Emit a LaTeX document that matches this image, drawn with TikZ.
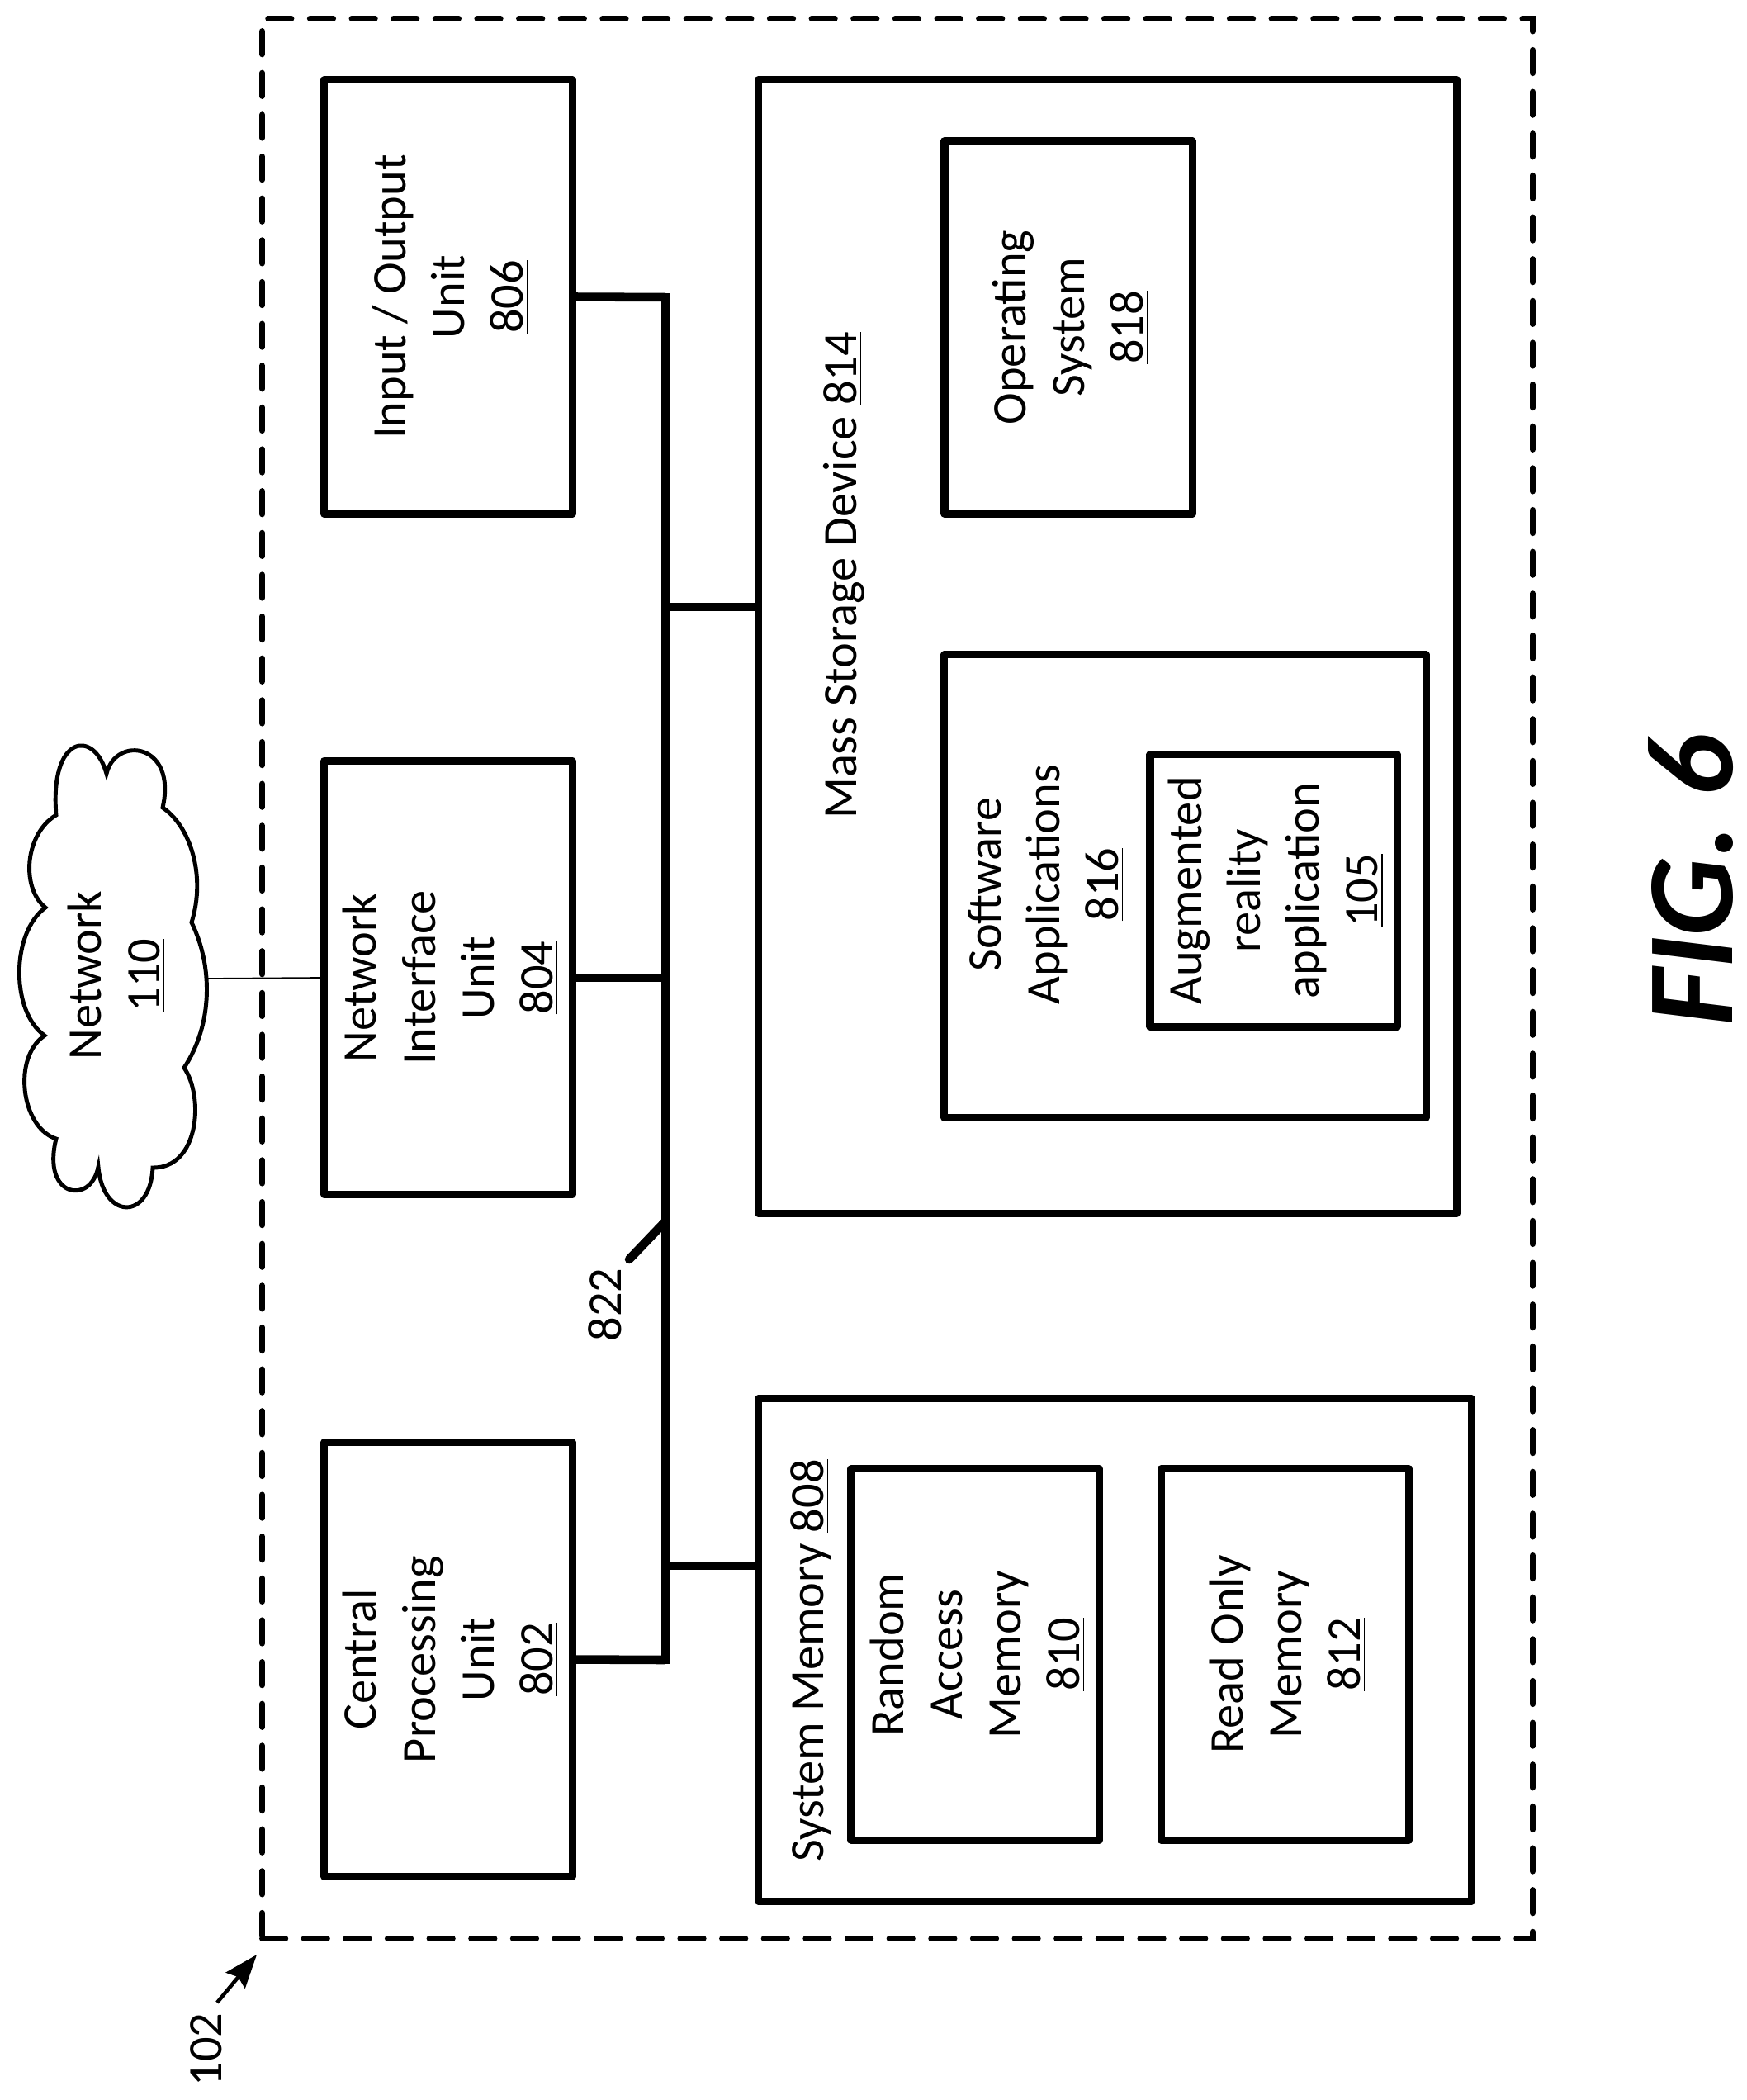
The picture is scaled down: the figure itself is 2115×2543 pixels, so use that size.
\documentclass[tikz,border=0pt]{standalone}
\usepackage{fontspec}
\setmainfont{Carlito}
\usetikzlibrary{arrows.meta}
\tikzset{
    box/.style={draw, line width=2.6pt, line join=round, outer sep=0pt, inner sep=0pt},
    txt/.style={xshift=0.03cm, rotate=90, align=center, inner sep=0pt, font=\fontsize{16.6}{20.2}\selectfont},
    bus/.style={line width=3pt},
}
\begin{document}
\begin{tikzpicture}[x=0.01cm, y=-0.01cm]
    \useasboundingbox (0,0) rectangle (2115,2543);

    \node[draw, line width=2pt, dash pattern=on 8pt off 6.4pt, line cap=round, outer sep=0pt, minimum width=15.38cm, minimum height=23.24cm] (device) at (1087,1185) {};

    % left column
    \node[box, minimum width=3.00cm, minimum height=5.25cm] (io) at (543,359.5) {};
    \node[box, minimum width=3.00cm, minimum height=5.25cm] (nic) at (543,1184) {};
    \node[box, minimum width=3.00cm, minimum height=5.25cm] (cpu) at (543,2009.5) {};
    \node[txt] (iotxt) at (io) {Input / Output\\Unit\\\underline{806}};
    \node[txt] (nictxt) at (nic) {Network\\Interface\\Unit\\\underline{804}};
    \node[txt] (cputxt) at (cpu) {Central\\Processing\\Unit\\\underline{802}};

    % mass storage
    \node[box, minimum width=8.45cm, minimum height=13.72cm] (mass) at (1341.5,783) {};
    \node[box, minimum width=3.00cm, minimum height=4.51cm] (os) at (1294,396.5) {};
    \node[box, minimum width=5.83cm, minimum height=5.60cm] (apps) at (1435.5,1073) {};
    \node[box, minimum width=2.99cm, minimum height=3.29cm] (ar) at (1542.5,1078.5) {};
    \node[txt] (masstxt) at (1019,697) {Mass Storage Device \underline{814}};
    \node[txt] (ostxt) at (os) {Operating\\System\\\underline{818}};
    \node[txt] (appstxt) at (1264,1071) {Software\\Applications\\\underline{816}};
    \node[txt] (artxt) at (ar) {Augmented\\reality\\application\\\underline{105}};

    % system memory
    \node[box, minimum width=8.63cm, minimum height=6.08cm] (mem) at (1350.5,1998) {};
    \node[box, minimum width=3.00cm, minimum height=4.49cm] (ram) at (1181,2003.5) {};
    \node[box, minimum width=3.00cm, minimum height=4.49cm] (rom) at (1556.5,2003.5) {};
    \node[txt] (memtxt) at (979,2011) {System Memory \underline{808}};
    \node[txt] (ramtxt) at (ram) {Random\\Access\\Memory\\\underline{810}};
    \node[txt] (romtxt) at (rom) {Read Only\\Memory\\\underline{812}};

    % bus
    \coordinate (bustop) at (806,360);
    \coordinate (busbot) at (806,2010);
    \coordinate (massbus) at (806,735);
    \coordinate (membus) at (806,1896);
    \coordinate (tickbus) at (806,1479);
    \coordinate (tickend) at (762,1525);
    \draw[bus, line cap=rect] (bustop) -- (busbot);
    \draw[bus] (io.east) -- (bustop);
    \draw[bus] (nic.east) -- (nic.east -| bustop);
    \draw[bus] (cpu.east) -- (busbot);
    \draw[bus] (massbus) -- (massbus -| mass.west);
    \draw[bus] (membus) -- (membus -| mem.west);
    \draw[bus, line cap=round] (tickbus) -- (tickend);
    \node[txt] (bustxt) at (730,1580) {822};

    % network
    \draw[line width=1.4pt, line join=miter] (129,937)
        .. controls (140,890) and (215,900) .. (197,978)
        .. controls (230,1000) and (250,1060) .. (232,1117)
        .. controls (258,1170) and (258,1240) .. (223,1293)
        .. controls (248,1330) and (240,1415) .. (185,1414)
        .. controls (182,1478) and (125,1478) .. (119,1413)
        .. controls (110,1460) and (50,1450) .. (68,1379)
        .. controls (25,1365) and (15,1280) .. (54,1254)
        .. controls (13,1225) and (13,1130) .. (55,1099)
        .. controls (25,1075) and (30,1010) .. (68,987)
        .. controls (60,890) and (114,882) .. cycle;
    \node[txt] (nettxt) at (138,1181) {Network\\\underline{110}};
    \coordinate (cloudedge) at (252,1185);
    \draw[line width=0.5pt] (cloudedge) -- (nic.west);

    % device label
    \node[txt] (devtxt) at (247,2482) {102};
    \coordinate (devfrom) at (263,2425);
    \coordinate (devto) at (311,2367);
    \draw[line width=1.3pt, -{Stealth[length=11.5pt, width=8.5pt, inset=1.5pt]}] (devfrom) -- (devto);

    \node[rotate=90, inner sep=0pt, font=\fontsize{42.5}{43}\selectfont\bfseries\itshape] (figtxt) at (2048,1066) {FIG. 6};
\end{tikzpicture}
\end{document}
